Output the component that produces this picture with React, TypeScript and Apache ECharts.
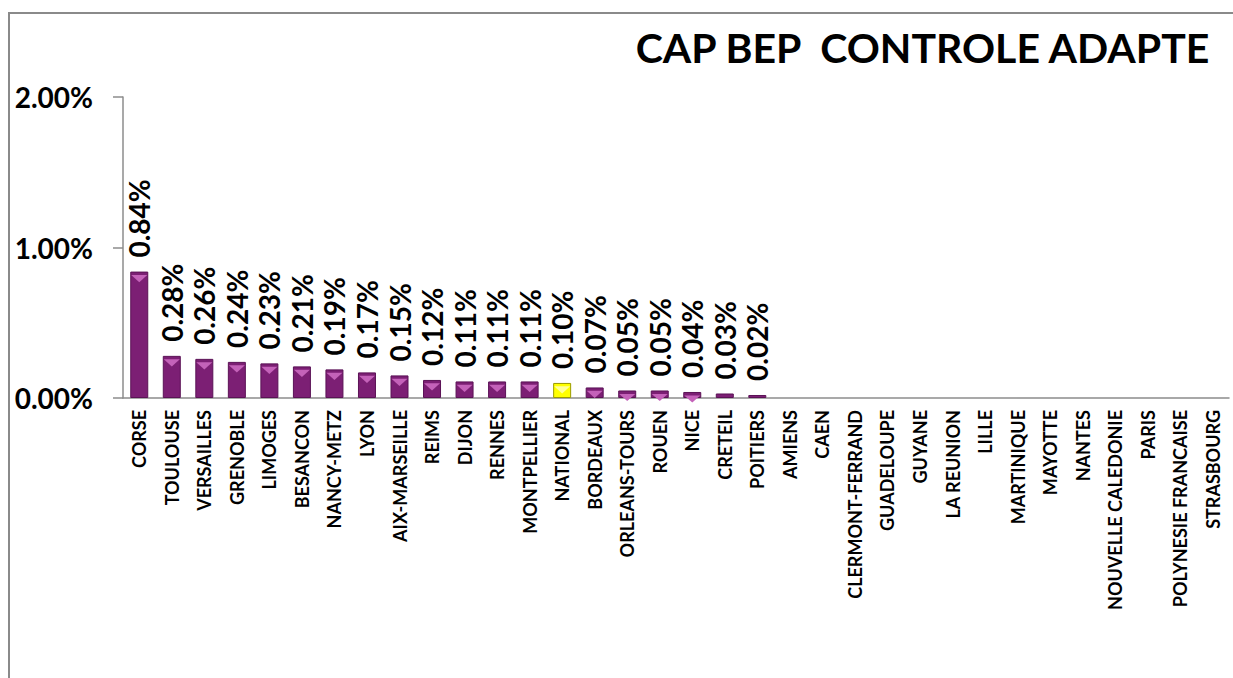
import React, { useEffect, useRef } from "react";
import * as echarts from "echarts";

const categories = [
  "CORSE", "TOULOUSE", "VERSAILLES", "GRENOBLE", "LIMOGES", "BESANCON", "NANCY-METZ", "LYON",
  "AIX-MARSEILLE", "REIMS", "DIJON", "RENNES", "MONTPELLIER", "NATIONAL", "BORDEAUX",
  "ORLEANS-TOURS", "ROUEN", "NICE", "CRETEIL", "POITIERS", "AMIENS", "CAEN", "CLERMONT-FERRAND",
  "GUADELOUPE", "GUYANE", "LA REUNION", "LILLE", "MARTINIQUE", "MAYOTTE", "NANTES",
  "NOUVELLE CALEDONIE", "PARIS", "POLYNESIE FRANCAISE", "STRASBOURG",
];
// values in percent
const values = [
  0.84, 0.28, 0.26, 0.24, 0.23, 0.21, 0.19, 0.17, 0.15, 0.12, 0.11, 0.11, 0.11, 0.1, 0.07,
  0.05, 0.05, 0.04, 0.03, 0.02, 0, 0, 0, 0, 0, 0, 0, 0, 0, 0, 0, 0, 0, 0,
];
const highlight = "NATIONAL";
const yTicks = [0, 1, 2];
const title = "CAP BEP  CONTROLE ADAPTE";

export default function App() {
  const ref = useRef<HTMLDivElement>(null);
  useEffect(() => {
    document.body.style.margin = "0";
    const chart = echarts.init(ref.current!, null, { renderer: "svg" });
    const font = "Lato, 'Open Sans', sans-serif";
    const barData = values.map((v, i) => ({
      value: v,
      itemStyle:
        categories[i] === highlight
          ? { color: "#FFFF00", borderColor: "#9a9a00", borderWidth: 1 }
          : { color: "#7C1F74", borderColor: "#5B1256", borderWidth: v > 0 ? 1 : 0 },
    }));
    const bevelData = values.map((v, i) => ({
      value: v,
      symbol: v >= 0.04 ? "path://M0,0 L10,0 L5,6 Z" : "none",
      itemStyle: { color: categories[i] === highlight ? "#FFFF99" : "#C462B9" },
    }));
    chart.setOption({
      animation: false,
      graphic: [
        {
          type: "line",
          shape: { x1: 9, y1: 13, x2: 1233, y2: 13 },
          style: { stroke: "#8a8a8a", lineWidth: 2 },
          silent: true,
        },
        {
          type: "line",
          shape: { x1: 9, y1: 12, x2: 9, y2: 678 },
          style: { stroke: "#8a8a8a", lineWidth: 2 },
          silent: true,
        },
        {
          type: "text",
          right: 20,
          top: 27,
          style: { text: title, font: `bold 41px ${font}`, fill: "#000" },
        },
      ],
      grid: { left: 123, right: 4, top: 97, bottom: 280, containLabel: false },
      xAxis: {
        type: "category",
        data: categories,
        axisLine: { lineStyle: { color: "#8c8c8c", width: 1.5 } },
        axisTick: { length: 6, lineStyle: { color: "#8c8c8c", width: 1.5 } },
        axisLabel: {
          rotate: 90,
          interval: 0,
          margin: 12,
          fontFamily: font,
          fontWeight: "bold",
          fontSize: 18,
          color: "#000",
        },
      },
      yAxis: {
        type: "value",
        min: yTicks[0],
        max: yTicks[yTicks.length - 1],
        interval: 1,
        splitLine: { show: false },
        axisLine: { show: true, lineStyle: { color: "#8c8c8c", width: 1.5 } },
        axisTick: { show: true, length: 10, lineStyle: { color: "#8c8c8c", width: 1.5 } },
        axisLabel: {
          margin: 30,
          fontFamily: font,
          fontWeight: "bold",
          fontSize: 28,
          color: "#000",
          formatter: (v: number) => v.toFixed(2) + "%",
        },
      },
      series: [
        {
          type: "bar",
          data: barData,
          barWidth: 18,
          label: {
            show: true,
            position: "top",
            rotate: 90,
            align: "left",
            verticalAlign: "middle",
            distance: 14,
            fontFamily: font,
            fontWeight: "bold",
            fontSize: 28,
            color: "#000",
            formatter: (p: any) => (p.value > 0 ? p.value.toFixed(2) + "%" : ""),
          },
        },
        {
          type: "pictorialBar",
          data: bevelData,
          symbolPosition: "end",
          symbolSize: [16, 7],
          symbolOffset: [0, "50%"],
          barGap: "-100%",
          silent: true,
          z: 3,
        },
      ],
    });
    return () => chart.dispose();
  }, []);
  return <div ref={ref} style={{ width: 1233, height: 678 }} />;
}
